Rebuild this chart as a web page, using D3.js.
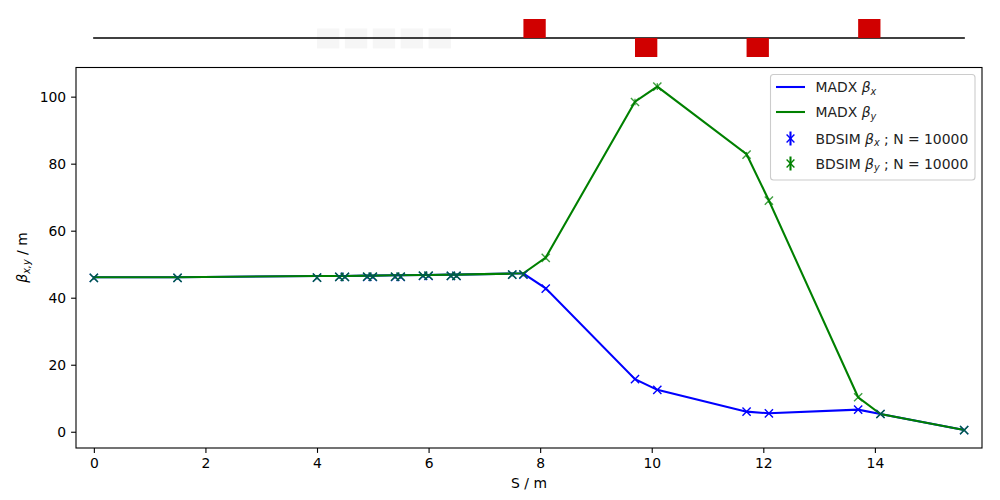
<!DOCTYPE html>
<html>
<head>
<meta charset="utf-8">
<script src="https://cdn.jsdelivr.net/npm/d3@7"></script>
<style>
  html, body { margin: 0; padding: 0; background: #fff; }
  text { font-family: "DejaVu Sans", sans-serif; fill: #000; }
  .math { font-style: italic; }
  .legend text { fill: #222; }
</style>
</head>
<body>
<div class="main"></div>
<script>
// Values
const sPos   = [0, 1.5, 4.0, 4.4, 4.5, 4.9, 5.0, 5.4, 5.5, 5.9, 6.0, 6.4, 6.5, 7.5, 7.7, 8.1, 9.7, 10.1, 11.7, 12.1, 13.7, 14.1, 15.6];
const madxX  = [46.1, 46.1, 46.5, 46.5, 46.5, 46.6, 46.6, 46.7, 46.7, 46.8, 46.8, 46.9, 46.9, 47.2, 47.2, 42.8, 15.7, 12.5, 6.0, 5.5, 6.6, 5.3, 0.5];
const madxY  = [46.1, 46.1, 46.5, 46.5, 46.5, 46.6, 46.6, 46.7, 46.7, 46.8, 46.8, 46.9, 46.9, 47.2, 47.3, 52.0, 98.5, 103.0, 82.8, 69.0, 10.3, 5.3, 0.5];
const bdsimX = [45.9, 45.9, 46.0, 46.2, 46.2, 46.2, 46.2, 46.2, 46.2, 46.5, 46.5, 46.5, 46.5, 46.9, 46.9, 42.7, 15.7, 12.5, 6.0, 5.5, 6.6, 5.3, 0.5];
const bdsimY = [45.9, 45.9, 46.0, 46.2, 46.2, 46.3, 46.3, 46.3, 46.3, 46.6, 46.6, 46.5, 46.5, 46.9, 47.0, 51.9, 98.4, 103.0, 82.7, 69.0, 10.3, 5.3, 0.5];
const errX   = [0.5, 0.5, 0.5, 0.5, 0.5, 0.5, 0.5, 0.5, 0.5, 0.5, 0.5, 0.5, 0.5, 0.5, 0.5, 0.5, 0.2, 0.2, 0.1, 0.1, 0.1, 0.1, 0.1];
const errY   = [0.5, 0.5, 0.5, 0.5, 0.5, 0.5, 0.5, 0.5, 0.5, 0.5, 0.5, 0.5, 0.5, 0.5, 0.5, 0.6, 1.0, 1.0, 0.8, 0.7, 0.1, 0.1, 0.1];
const xTicks = [0, 2, 4, 6, 8, 10, 12, 14];
const yTicks = [0, 20, 40, 60, 80, 100];

// Machine layout along S
const quadStart = [7.7, 9.7, 11.7, 13.7];
const quadEnd   = [8.1, 10.1, 12.1, 14.1];
const quadSide  = [1, -1, -1, 1];
const driftStart = [4.0, 4.5, 5.0, 5.5, 6.0];
const driftEnd   = [4.4, 4.9, 5.4, 5.9, 6.4];
const machineLength = 15.6;

const nBdsim = 10000;

// Visualisation setup
const width = 1000, height = 500;
const margin = { top: 67.5, right: 18, bottom: 52, left: 76 };
const blue = "#0000ff", green = "#008000";
const fontSize = 13.9;

const svg = d3.select('.main').append('svg')
    .attr("width", width)
    .attr("height", height)
    .style("display", "block");

const xScale = d3.scaleLinear().domain([-0.32, 15.92]).range([margin.left, width - margin.right]);
const yScale = d3.scaleLinear().domain([-4.85, 108.7]).range([height - margin.bottom, margin.top]);

// Machine diagram above the plot
const machineY = d3.scaleLinear().domain([-1, 1]).range([57, 19]);
const machine = svg.append("g").attr("class", "machine");

machine.selectAll(".drift").data(driftStart).enter().append("rect")
    .attr("class", "drift")
    .attr("x", d => xScale(d))
    .attr("width", (d, i) => xScale(driftEnd[i]) - xScale(d))
    .attr("y", machineY(0.5))
    .attr("height", machineY(-0.55) - machineY(0.5))
    .attr("fill", "#f6f6f6");

machine.append("line")
    .attr("x1", xScale(0))
    .attr("x2", xScale(machineLength))
    .attr("y1", machineY(0))
    .attr("y2", machineY(0))
    .attr("stroke", "#000")
    .attr("stroke-width", 1.4)
    .attr("stroke-linecap", "square");

machine.selectAll(".quad").data(quadStart).enter().append("rect")
    .attr("class", "quad")
    .attr("x", d => xScale(d))
    .attr("width", (d, i) => xScale(quadEnd[i]) - xScale(d))
    .attr("y", (d, i) => quadSide[i] > 0 ? machineY(1) : machineY(0))
    .attr("height", machineY(-1) - machineY(0))
    .attr("fill", "#d00000");

// Axes
const xAxis = d3.axisBottom(xScale).tickValues(xTicks).tickSize(4.9).tickPadding(4.9).tickFormat(d3.format("d"));
const yAxis = d3.axisLeft(yScale).tickValues(yTicks).tickSize(4.9).tickPadding(4.9).tickFormat(d3.format("d"));

const gx = svg.append("g").attr("class", "x axis")
    .attr("transform", "translate(0," + (height - margin.bottom) + ")")
    .call(xAxis);
const gy = svg.append("g").attr("class", "y axis")
    .attr("transform", "translate(" + margin.left + ",0)")
    .call(yAxis);

[gx, gy].forEach(g => {
  g.select(".domain").remove();
  g.selectAll(".tick line").attr("stroke", "#000").attr("stroke-width", 1.1);
  g.selectAll(".tick text").attr("font-size", fontSize).style("font-family", '"DejaVu Sans", sans-serif');
});

// MADX lines
const lineFor = vals => d3.line()
    .x(d => xScale(d))
    .y((d, i) => yScale(vals[i]))(sPos);

svg.append("path").attr("d", lineFor(madxX))
    .attr("fill", "none").attr("stroke", blue).attr("stroke-width", 2.08);
svg.append("path").attr("d", lineFor(madxY))
    .attr("fill", "none").attr("stroke", green).attr("stroke-width", 2.08);

// BDSIM points: cross marker plus vertical error bar
function drawPoints(vals, errs, col, alpha) {
  const g = svg.append("g").attr("class", "points").attr("opacity", alpha);
  sPos.forEach((s, i) => {
    const cx = xScale(s), cy = yScale(vals[i]), r = 4.1;
    g.append("line")
        .attr("x1", cx).attr("x2", cx)
        .attr("y1", yScale(vals[i] - errs[i]))
        .attr("y2", yScale(vals[i] + errs[i]))
        .attr("stroke", col).attr("stroke-width", 1.4);
    g.append("path")
        .attr("d", d3.line()([[cx - r, cy - r], [cx + r, cy + r]]) + d3.line()([[cx - r, cy + r], [cx + r, cy - r]]))
        .attr("stroke", col).attr("stroke-width", 1.4).attr("fill", "none");
  });
}
drawPoints(bdsimX, errX, blue, 1);
drawPoints(bdsimY, errY, green, 0.75);

// Outline of the plot
svg.append("rect")
    .attr("x", margin.left)
    .attr("y", margin.top)
    .attr("width", width - margin.left - margin.right)
    .attr("height", height - margin.top - margin.bottom)
    .attr("fill", "none")
    .attr("stroke", "#000")
    .attr("stroke-width", 1.1);

// Axis labels
svg.append("text")
    .attr("x", (margin.left + width - margin.right) / 2)
    .attr("y", 488)
    .attr("text-anchor", "middle")
    .attr("font-size", fontSize)
    .text("S / m");

const yLabel = svg.append("text")
    .attr("transform", "translate(27," + 257.5 + ") rotate(-90)")
    .attr("text-anchor", "middle")
    .attr("font-size", fontSize);
yLabel.append("tspan").attr("class", "math").text("β");
yLabel.append("tspan").attr("class", "math").attr("font-size", 9.7).attr("dy", 2.5).text("x,y");
yLabel.append("tspan").attr("dy", -2.5).text(" / m");

// Legend
const legend = svg.append("g").attr("class", "legend");
legend.append("rect")
    .attr("x", 770.5).attr("y", 74.5)
    .attr("width", 204.5).attr("height", 105.5)
    .attr("rx", 3).attr("ry", 3)
    .attr("fill", "#fff").attr("fill-opacity", 0.8)
    .attr("stroke", "#ccc").attr("stroke-width", 1.1);

const legendRows = [
  { name: "MADX ", sub: "x", tail: "", col: blue, type: "line" },
  { name: "MADX ", sub: "y", tail: "", col: green, type: "line" },
  { name: "BDSIM ", sub: "x", tail: " ; N = " + nBdsim, col: blue, type: "point" },
  { name: "BDSIM ", sub: "y", tail: " ; N = " + nBdsim, col: green, type: "point" }
];
const legendY = [87, 112, 138.5, 163.5];

legendRows.forEach((row, i) => {
  const y = legendY[i];
  if (row.type === "line") {
    legend.append("line")
        .attr("x1", 776).attr("x2", 805).attr("y1", y).attr("y2", y)
        .attr("stroke", row.col).attr("stroke-width", 2.08);
  } else {
    const r = 3.9;
    legend.append("path")
        .attr("d", "M790.5," + (y - 7) + "V" + (y + 7))
        .attr("stroke", row.col).attr("stroke-width", 2.08).attr("fill", "none");
    legend.append("path")
        .attr("d", "M" + (790.5 - r) + "," + (y - r) + "L" + (790.5 + r) + "," + (y + r) +
                   "M" + (790.5 - r) + "," + (y + r) + "L" + (790.5 + r) + "," + (y - r))
        .attr("stroke", row.col).attr("stroke-width", 1.4).attr("fill", "none");
  }
  const t = legend.append("text")
      .attr("x", 815.5)
      .attr("y", y + 5)
      .attr("font-size", fontSize);
  t.append("tspan").text(row.name);
  t.append("tspan").attr("class", "math").text("β");
  t.append("tspan").attr("class", "math").attr("font-size", 9.7).attr("dy", 2.5).text(row.sub);
  if (row.tail) t.append("tspan").attr("dy", -2.5).text(row.tail);
});
</script>
</body>
</html>
